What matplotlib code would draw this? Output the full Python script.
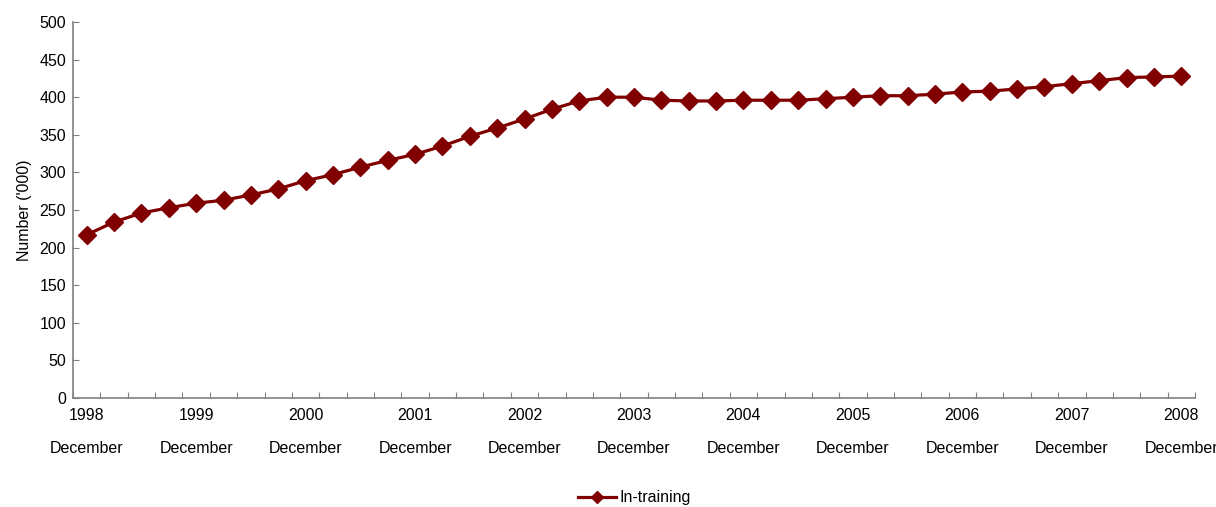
import numpy as np
import matplotlib
matplotlib.use('Agg')
import matplotlib.pyplot as plt

# quarterly counts, December 1998 to December 2008 ('000)
years = list(range(1998, 2009))
in_training = [217, 234, 246, 253, 259, 263, 270, 278, 289, 297,
               307, 316, 324, 335, 348, 359, 371, 384, 395, 400,
               400, 396, 395, 395, 396, 396, 396, 398, 400, 402,
               402, 404, 407, 408, 411, 414, 418, 422, 426, 427,
               428]

plt.rcParams['font.family'] = ['Liberation Sans', 'DejaVu Sans']
fontsize = 11.5
col = '#800000'
grey = '#808080'

fig = plt.figure(figsize=(12.16, 5.07), dpi=100)
ax = fig.add_axes([73/1216, 109/507, 1122/1216, 376/507])

x = np.arange(len(in_training))
ax.plot(x, in_training, color=col, lw=2.3, marker='D', markersize=9,
        label='In-training')

ax.set_xlim(-0.5, len(in_training) - 0.5)
ax.set_ylim(0, 500)
ax.set_yticks(np.arange(0, 501, 50))
# category boundaries carry the ticks, every fourth quarter gets a label
ax.set_xticks(np.arange(-0.5, len(in_training)))
ax.set_xticklabels([])
ax.set_xticks(np.arange(0, len(in_training), 4), minor=True)
ax.set_xticklabels([f'{y}\nDecember' for y in years], minor=True)

ax.tick_params(axis='x', which='major', direction='in', length=4.5, color=grey)
ax.tick_params(axis='x', which='minor', length=0, pad=7, labelsize=fontsize)
ax.tick_params(axis='y', direction='in', length=4.5, color=grey, labelsize=fontsize, pad=5)
for lbl in ax.get_xticklabels(minor=True):
    lbl.set_linespacing(2.5)

for s in ['top', 'right']:
    ax.spines[s].set_visible(False)
for s in ['left', 'bottom']:
    ax.spines[s].set_color(grey)
    ax.spines[s].set_linewidth(1.2)

ax.set_ylabel("Number ('000)", fontsize=fontsize, labelpad=5)

ax.legend(loc='center', bbox_to_anchor=(0.5, -0.265), frameon=False,
          fontsize=fontsize, handlelength=2.4, handletextpad=0.2,
          markerscale=0.7)

fig.savefig('out.png', dpi=100)
